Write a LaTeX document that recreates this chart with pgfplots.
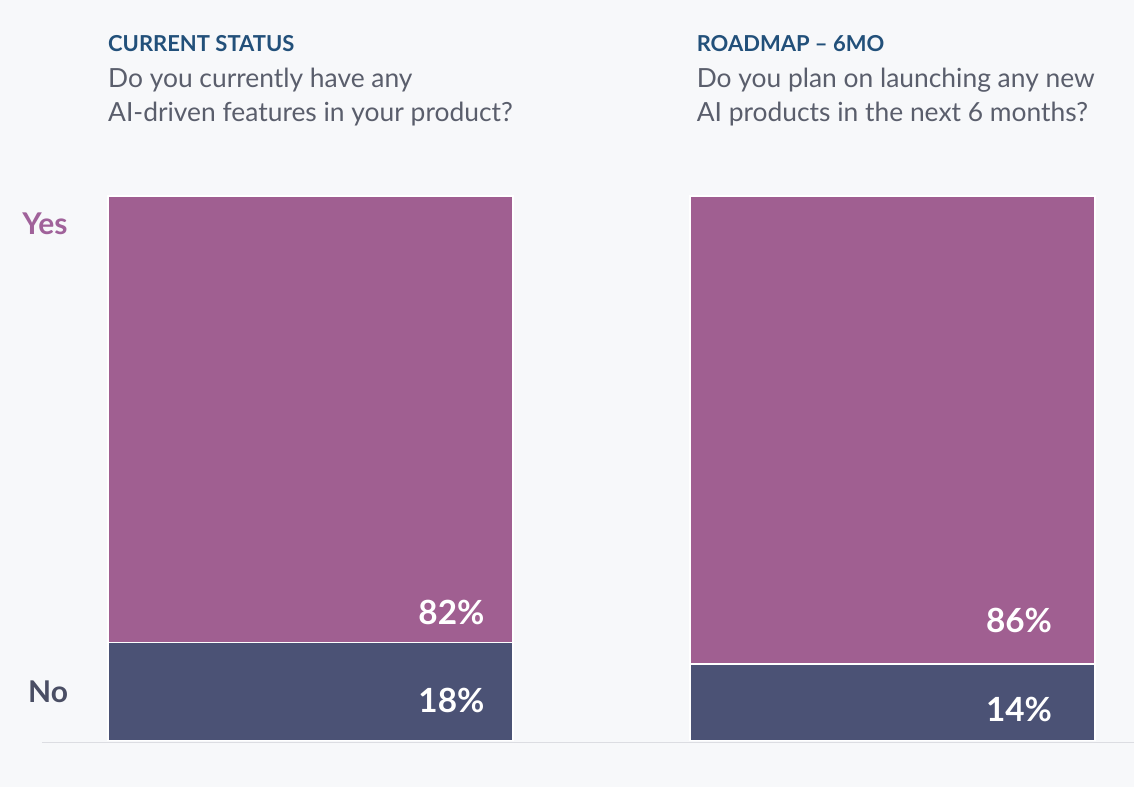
\documentclass[border=0pt]{standalone}
\usepackage{pgfplots}
\pgfplotsset{compat=1.18}
\usepackage{fontspec}
\setmainfont{Lato}
\definecolor{bg}{HTML}{F7F8FA}
\definecolor{yescol}{HTML}{A05F91}
\definecolor{nocol}{HTML}{4B5275}
\definecolor{titlecol}{HTML}{22507A}
\definecolor{qcol}{HTML}{5A5E6C}
\definecolor{yeslab}{HTML}{A0629A}
\definecolor{nolab}{HTML}{4A4E64}
\definecolor{basecol}{HTML}{DCDDE2}
\begin{document}
\begin{tikzpicture}
\begin{axis}[
  scale only axis, width=851.25pt, height=591pt,
  xmin=0, xmax=1135, ymin=-8.624, ymax=135.963,
  axis lines=none, xtick=\empty, ytick=\empty,
  axis background/.style={fill=bg},
  clip=false,
  ybar stacked, bar width=405,
]
\draw[basecol, line width=1.2pt] (axis cs:42,-0.37) -- (axis cs:1135,-0.37);
\addplot[fill=nocol, draw=white, line width=1.3pt] coordinates {(310.5,18) (893,14)};
\addplot[fill=yescol, draw=white, line width=1.3pt] coordinates {(310.5,82) (893,86)};
% titles
\node[anchor=base west, font=\fontsize{16.5pt}{19pt}\selectfont\bfseries, text=titlecol, inner sep=0pt] at (axis cs:108,126.42) {CURRENT STATUS};
\node[anchor=base west, font=\fontsize{19.8pt}{23pt}\selectfont, text=qcol, inner sep=0pt] at (axis cs:108,119.82) {Do you currently have any};
\node[anchor=base west, font=\fontsize{19.8pt}{23pt}\selectfont, text=qcol, inner sep=0pt] at (axis cs:108,113.58) {AI-driven features in your product?};
\node[anchor=base west, font=\fontsize{16.5pt}{19pt}\selectfont\bfseries, text=titlecol, inner sep=0pt] at (axis cs:697,126.42) {ROADMAP – 6MO};
\node[anchor=base west, font=\fontsize{19.8pt}{23pt}\selectfont, text=qcol, inner sep=0pt] at (axis cs:697,119.82) {Do you plan on launching any new};
\node[anchor=base west, font=\fontsize{19.8pt}{23pt}\selectfont, text=qcol, inner sep=0pt] at (axis cs:697,113.58) {AI products in the next 6 months?};
% category labels
\node[anchor=base west, font=\fontsize{22.5pt}{26pt}\selectfont\bfseries, text=yeslab, inner sep=0pt] at (axis cs:22,92.84) {Yes};
\node[anchor=base west, font=\fontsize{22.5pt}{26pt}\selectfont\bfseries, text=nolab, inner sep=0pt] at (axis cs:28,6.97) {No};
% anchor points for value labels
\coordinate (a) at (axis cs:485,21.28);
\coordinate (b) at (axis cs:485,5.14);
\coordinate (c) at (axis cs:1053,19.82);
\coordinate (d) at (axis cs:1053,3.49);
\end{axis}
\begin{scope}[every node/.style={anchor=base east, font=\fontsize{25pt}{29pt}\selectfont\bfseries, text=white, inner sep=0pt}]
\node at (a) {82\%};
\node at (b) {18\%};
\node at (c) {86\%};
\node at (d) {14\%};
\end{scope}
\end{tikzpicture}
\end{document}
